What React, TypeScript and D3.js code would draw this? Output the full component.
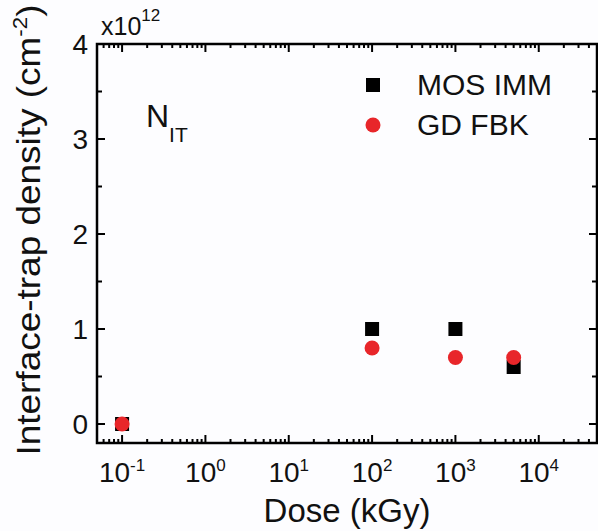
import React from "react";
import * as d3 from "d3";

const doses = [0.1, 100, 1000, 5000];
const mosImm = [0, 1.0, 1.0, 0.6];
const gdFbk = [0, 0.8, 0.7, 0.7];
const yTicks = [0, 1, 2, 3, 4];
const xDecades = [-1, 0, 1, 2, 3, 4];
const seriesNames = ["MOS IMM", "GD FBK"];

const W = 598;
const H = 531;
const left = 97;
const right = 597;
const top = 44;
const bottom = 443;
const RED = "#e8262a";
const FONT = "Liberation Sans, Arial, Helvetica, sans-serif";

export default function App() {
  const x = d3.scaleLog().domain([0.05, 50000]).range([left, right]);
  const y = d3.scaleLinear().domain([-0.2, 4]).range([bottom, top]);

  const xt = x.ticks().filter((t) => t >= 0.05 && t <= 50000);
  const isMajor = (t: number) => Math.abs(Math.log10(t) - Math.round(Math.log10(t))) < 1e-9;
  const yMinor = d3.range(0, 4.01, 0.5);

  return (
    <svg
      width={W}
      height={H}
      style={{ position: "absolute", left: 0, top: 0, background: "#fdfdff" }}
      fontFamily={FONT}
    >
      <rect x={0} y={0} width={W} height={H} fill="#fdfdff" />
      {/* ticks x */}
      {xt.map((t, i) => {
        const len = isMajor(t) ? 8 : 4;
        const px = x(t);
        return (
          <g key={"xt" + i} stroke="#000" strokeWidth={2}>
            <line x1={px} x2={px} y1={bottom} y2={bottom - len} />
            <line x1={px} x2={px} y1={top} y2={top + len} />
          </g>
        );
      })}
      {/* ticks y */}
      {yMinor.map((v, i) => {
        const major = Math.abs(v - Math.round(v)) < 1e-9;
        const len = major ? 8 : 5;
        const py = y(v);
        return (
          <g key={"yt" + i} stroke="#000" strokeWidth={2}>
            <line x1={left} x2={left + len} y1={py} y2={py} />
            <line x1={right} x2={right - len} y1={py} y2={py} />
          </g>
        );
      })}
      <rect
        x={left}
        y={top}
        width={right - left}
        height={bottom - top}
        fill="none"
        stroke="#000"
        strokeWidth={2.5}
      />
      {/* y tick labels */}
      {yTicks.map((v) => (
        <text
          key={"yl" + v}
          x={88}
          y={y(v) + 10}
          textAnchor="end"
          fontSize={28}
          fill="#111"
        >
          {v}
        </text>
      ))}
      {/* x tick labels */}
      {xDecades.map((e) => (
        <text
          key={"xl" + e}
          x={x(Math.pow(10, e))}
          y={482}
          textAnchor="middle"
          fontSize={28}
          fill="#111"
        >
          <tspan>10</tspan>
          <tspan fontSize={17} dy={-11}>
            {e}
          </tspan>
        </text>
      ))}
      {/* multiplier */}
      <text x={101} y={35} fontSize={25} fill="#111">
        <tspan>x10</tspan>
        <tspan fontSize={17} dy={-14}>
          12
        </tspan>
      </text>
      {/* axis titles */}
      <text x={(left + right) / 2 + 0} y={522} textAnchor="middle" fontSize={33} fill="#111">
        Dose (kGy)
      </text>
      <text
        transform={`translate(40, 230) rotate(-90) scale(1.12, 1)`}
        textAnchor="middle"
        fontSize={33}
        fill="#111"
      >
        <tspan>Interface-trap density (cm</tspan>
        <tspan fontSize={20} dy={-13}>
          -2
        </tspan>
        <tspan dy={13}>)</tspan>
      </text>
      {/* N_IT */}
      <text x={146} y={127} fontSize={32} fill="#111">
        <tspan>N</tspan>
        <tspan fontSize={21} dy={15}>
          IT
        </tspan>
      </text>
      {/* data */}
      {doses.map((d, i) => (
        <rect
          key={"sq" + i}
          x={x(d) - 7}
          y={y(mosImm[i]) - 7}
          width={14}
          height={14}
          fill="#000"
        />
      ))}
      {doses.map((d, i) => (
        <circle key={"ci" + i} cx={x(d)} cy={y(gdFbk[i])} r={7.5} fill={RED} />
      ))}
      {/* legend */}
      <rect x={366} y={78} width={14} height={14} fill="#000" />
      <text x={417} y={95} fontSize={30} fill="#111">
        {seriesNames[0]}
      </text>
      <circle cx={373} cy={125} r={7.5} fill={RED} />
      <text x={417} y={135} fontSize={30} fill="#111">
        {seriesNames[1]}
      </text>
    </svg>
  );
}
